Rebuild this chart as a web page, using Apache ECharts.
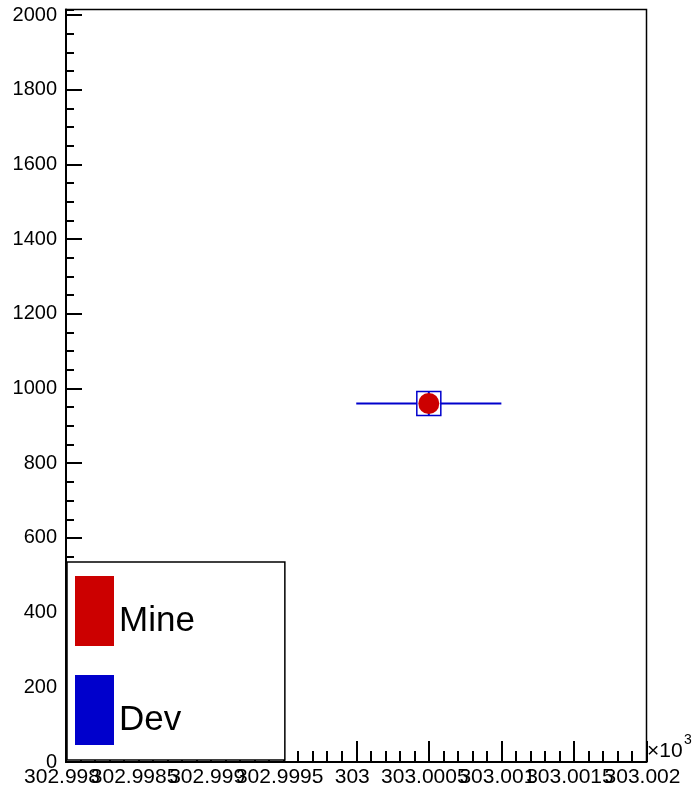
<!DOCTYPE html>
<html>
<head>
<meta charset="utf-8">
<script src="https://cdn.jsdelivr.net/npm/echarts@6/dist/echarts.min.js"></script>
<style>
  html, body { margin: 0; padding: 0; background: #fff; }
  #chart { width: 696px; height: 800px; }
</style>
</head>
<body>
<div id="chart"></div>
<script>
// Values (x axis in units of 10^3)
const seriesNames = ['Mine', 'Dev'];
const mineX = [303.0005];
const mineY = [960];
const devX = [303.0005];
const devY = [960];
const devXErr = [0.0005];
const devYErr = [31];

const FONT = 'Liberation Sans, Arial, sans-serif';
const RED = '#cc0000', BLUE = '#0000cc';

const chart = echarts.init(document.getElementById('chart'), null, { renderer: 'canvas' });

// Dev: horizontal bin-width bar, small vertical error and an open square marker.
function renderDev(params, api) {
  const x = api.value(0), y = api.value(1), xe = api.value(2), ye = api.value(3);
  const c = api.coord([x, y]);
  const l = api.coord([x - xe, y]), r = api.coord([x + xe, y]);
  const t = api.coord([x, y + ye]), b = api.coord([x, y - ye]);
  const h = 12;
  const st = { stroke: BLUE, lineWidth: 2 };
  return {
    type: 'group',
    children: [
      { type: 'line', shape: { x1: l[0], y1: c[1], x2: c[0] - h, y2: c[1] }, style: st },
      { type: 'line', shape: { x1: c[0] + h, y1: c[1], x2: r[0], y2: c[1] }, style: st },
      { type: 'line', shape: { x1: c[0], y1: t[1], x2: c[0], y2: b[1] }, style: st },
      { type: 'rect', shape: { x: c[0] - h, y: c[1] - h, width: 2 * h, height: 2 * h },
        style: { stroke: BLUE, fill: 'none', lineWidth: 1.5 } }
    ]
  };
}

// x tick labels are split over two axes so ECharts does not drop the
// overlapping neighbours of the first/last label.
const X_MIN = 302.998, X_STEP = 0.0005;
const xIndex = (v) => Math.round((v - X_MIN) / X_STEP);
const xFmt = (v) => String(+v.toFixed(4));
const xLabelStyle = { fontSize: 21, fontFamily: FONT, color: '#000', margin: 5, padding: [0, 8, 0, 0], hideOverlap: false };
const yTickLabel = (v) => (Math.abs(v % 200) < 1e-6 ? String(v) : '');

chart.setOption({
  animation: false,
  grid: { left: 66, right: 49.5, top: 9.5, bottom: 38, show: true, borderColor: '#000', borderWidth: 1.5,
    backgroundColor: '#fff', outerBoundsMode: 'none', containLabel: false },
  legend: {
    orient: 'vertical', left: 67, top: 562,
    padding: [14, 90, 15, 8], itemGap: 29, itemWidth: 39, itemHeight: 70,
    backgroundColor: '#fff', borderColor: '#000', borderWidth: 1.5,
    formatter: '{a|{name}}',
    textStyle: { fontSize: 35, fontFamily: FONT, color: '#000',
      rich: { a: { fontSize: 35, fontFamily: FONT, color: '#000', padding: [20, 0, 0, 0] } } },
    data: [
      { name: seriesNames[0], icon: 'rect', itemStyle: { color: RED } },
      { name: seriesNames[1], icon: 'rect', itemStyle: { color: BLUE } }
    ],
    selectedMode: false
  },
  // axis exponent "×10³" at the right end of the x axis
  graphic: [
    { type: 'text', left: 647, top: 741, z: 10,
      style: { text: '×10', fontSize: 21, fontFamily: FONT, fill: '#000' } },
    { type: 'text', left: 684, top: 733, z: 10,
      style: { text: '3', fontSize: 14, fontFamily: FONT, fill: '#000' } }
  ],
  xAxis: [
    {
      type: 'value', min: X_MIN, max: 303.002, interval: X_STEP,
      axisLine: { show: true, lineStyle: { color: '#000', width: 2 } },
      axisTick: { show: true, inside: true, length: 21, lineStyle: { color: '#000', width: 2 } },
      minorTick: { show: true, splitNumber: 5, length: 11, lineStyle: { color: '#000', width: 2 } },
      splitLine: { show: false },
      axisLabel: Object.assign({}, xLabelStyle, {
        formatter: (v) => (xIndex(v) % 2 === 0 ? xFmt(v) : '')
      })
    },
    {
      type: 'value', min: X_MIN, max: 303.002, interval: X_STEP, position: 'bottom',
      axisLine: { show: false }, axisTick: { show: false }, splitLine: { show: false },
      axisLabel: Object.assign({}, xLabelStyle, {
        formatter: (v) => (xIndex(v) % 2 === 1 ? xFmt(v) : '')
      })
    }
  ],
  yAxis: [
    {
      type: 'value', min: 0, max: 2015, interval: 200,
      axisLine: { show: true, lineStyle: { color: '#000', width: 2 } },
      axisTick: { show: true, inside: true, length: 16, lineStyle: { color: '#000', width: 2 } },
      splitLine: { show: false },
      axisLabel: { fontSize: 20, fontFamily: FONT, color: '#000', margin: 9, padding: [6, 0, 0, 0],
        showMaxLabel: false, formatter: yTickLabel }
    },
    {
      // minor ticks every 50
      type: 'value', min: 0, max: 2015, interval: 50, position: 'left',
      axisLine: { show: false },
      axisTick: { show: true, inside: true, length: 8, lineStyle: { color: '#000', width: 2 } },
      splitLine: { show: false },
      axisLabel: { show: false }
    }
  ],
  series: [
    {
      name: seriesNames[1], type: 'custom', renderItem: renderDev,
      itemStyle: { color: BLUE },
      encode: { x: 0, y: 1 },
      data: devX.map((x, i) => [x, devY[i], devXErr[i], devYErr[i]]),
      z: 3
    },
    {
      name: seriesNames[0], type: 'scatter', symbol: 'circle', symbolSize: 21,
      itemStyle: { color: RED, opacity: 1 },
      data: mineX.map((x, i) => [x, mineY[i]]),
      z: 4
    }
  ]
});
</script>
</body>
</html>
